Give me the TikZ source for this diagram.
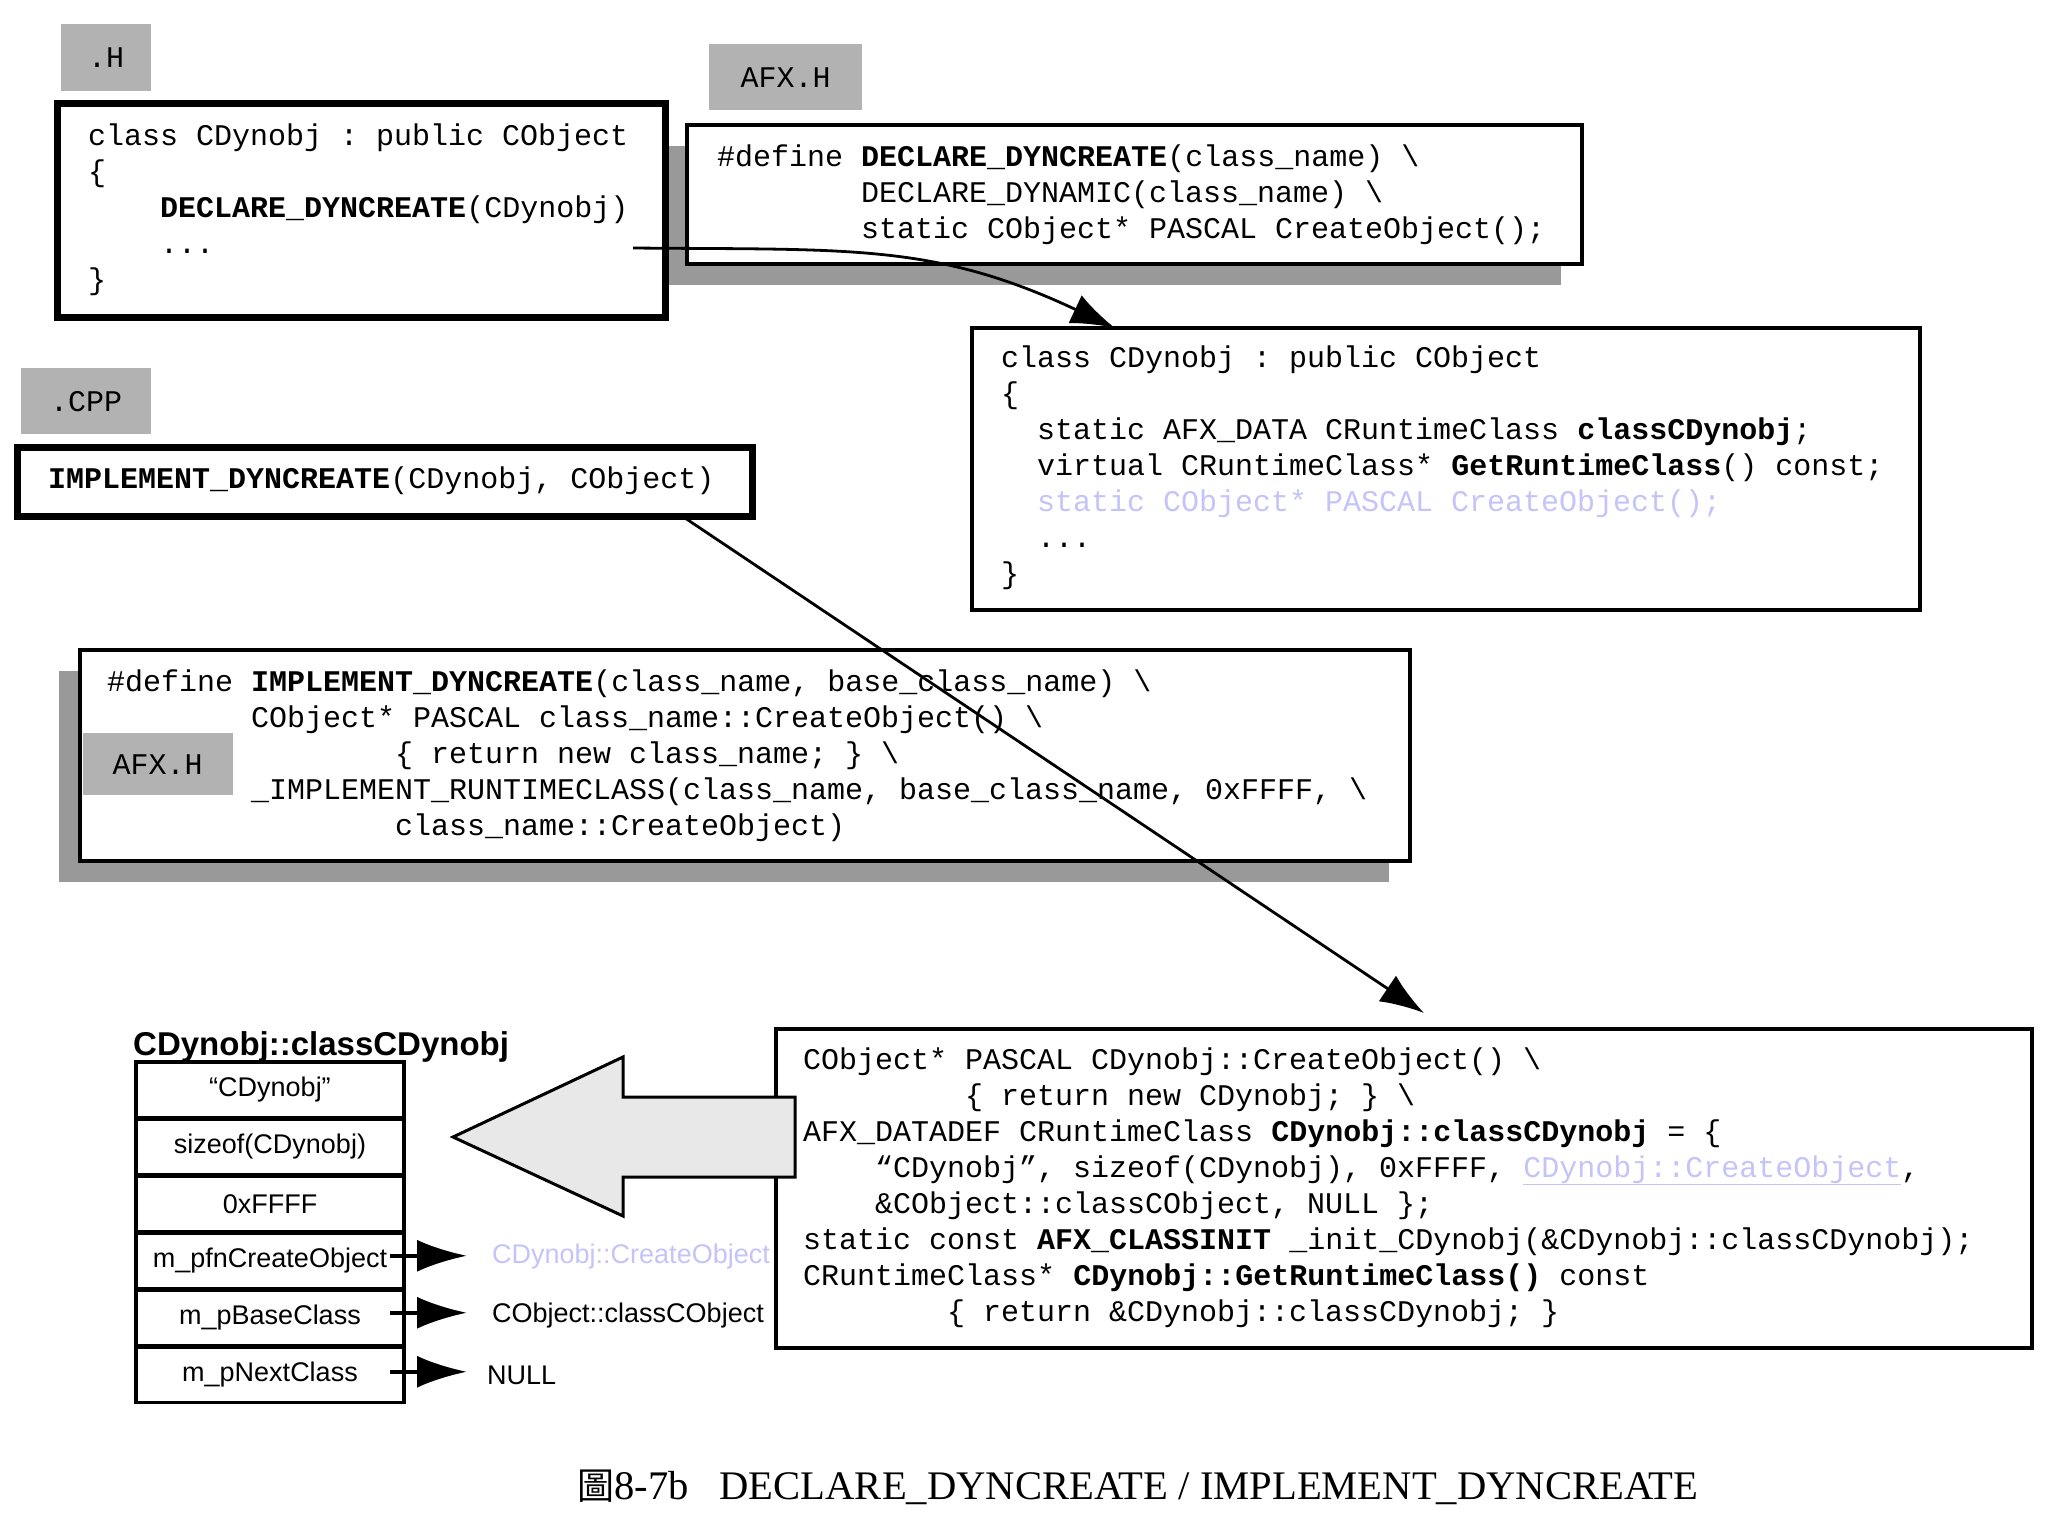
\documentclass[tikz,border=0pt]{standalone}
\usepackage{fontspec}
\setmainfont{Liberation Serif}
\setsansfont{Liberation Sans}
\setmonofont{Liberation Mono}
\newfontfamily\cjkfont{Noto Sans CJK TC}
\usetikzlibrary{arrows.meta,positioning,shadows}

\definecolor{etiq}{gray}{0.70}
\definecolor{ombre}{gray}{0.60}
\definecolor{fleche}{gray}{0.91}
\definecolor{pale}{RGB}{196,196,250}

\newlength{\chw}\setlength{\chw}{18pt}
\newcommand{\cind}[1]{\hspace*{#1\chw}}
\newcommand{\codefont}{\ttfamily\fontsize{30}{36}\selectfont\frenchspacing}
\newcommand{\slotfont}{\sffamily\fontsize{27}{30}\selectfont}

\begin{document}
\begin{tikzpicture}[x=1pt, y=-1pt,
    codebox/.style={draw, line width=4.3pt, fill=white, inner sep=0pt, outer sep=0pt, anchor=north west},
    heavybox/.style={codebox, line width=7pt},
    shadowed/.style={drop shadow={shadow xshift=-21pt, shadow yshift=-21pt, fill=ombre, opacity=1}},
    tag/.style={fill=etiq, inner sep=0pt, font=\codefont, anchor=north west},
    code/.style={inner sep=0pt, align=left, anchor=base west, font=\codefont},
    slot/.style={draw, line width=3.5pt, minimum width=268pt, minimum height=55.5pt, inner sep=0pt, outer sep=0pt, font=\slotfont},
    field/.style={inner sep=0pt, anchor=base west, font=\slotfont},
    link/.style={-{Latex[length=44pt, width=31pt]}, line width=2.8pt},
    ptr/.style={-{Latex[length=50pt, width=32pt]}, line width=4pt}]

    % Cadre de la page
    \fill[white] (0,0) rectangle (2048,1524);
    \useasboundingbox (0,0) rectangle (2048,1524);

    % Etiquettes des fichiers
    \node[tag, minimum width=90pt, minimum height=67pt] (labH) at (61,24) {.H};
    \node[tag, minimum width=153pt, minimum height=66pt] (labAfxDecl) at (709,44) {AFX.H};
    \node[tag, minimum width=130pt, minimum height=66pt] (labCpp) at (21,368) {.CPP};

    % Macro DECLARE_DYNCREATE (AFX.H) -- base = derniere ligne
    \node[codebox, shadowed, minimum width=895pt, minimum height=139pt] (boxDecl) at (687,125) {};
    \node[code] (txtDecl) at (717,238) {\#define \textbf{DECLARE\_DYNCREATE}(class\_name) \textbackslash\\
        \cind{8}DECLARE\_DYNAMIC(class\_name) \textbackslash\\
        \cind{8}static CObject* PASCAL CreateObject();};

    % Classe dans le .H
    \node[heavybox, minimum width=608pt, minimum height=214pt] (boxH) at (57,103) {};
    \node[code] (txtH) at (88,289) {class CDynobj : public CObject\\
        \{\\
        \cind{4}\textbf{DECLARE\_DYNCREATE}(CDynobj)\\
        \cind{4}...\\
        \}};

    % Classe apres expansion
    \node[codebox, minimum width=948pt, minimum height=282pt] (boxClass) at (972,328) {};
    \node[code] (txtClass) at (1001,583) {class CDynobj : public CObject\\
        \{\\
        \cind{2}static AFX\_DATA CRuntimeClass \textbf{classCDynobj};\\
        \cind{2}virtual CRuntimeClass* \textbf{GetRuntimeClass}() const;\\
        \cind{2}\textcolor{pale}{static CObject* PASCAL CreateObject();}\\
        \cind{2}...\\
        \}};

    % Appel dans le .CPP
    \node[heavybox, minimum width=735pt, minimum height=69pt] (boxImpl) at (17,447) {};
    \node[code] (txtImpl) at (48,488) {\textbf{IMPLEMENT\_DYNCREATE}(CDynobj, CObject)};

    % Macro IMPLEMENT_DYNCREATE (AFX.H)
    \node[codebox, shadowed, minimum width=1330pt, minimum height=211pt] (boxMacro) at (80,650) {};
    \node[code] (txtMacro) at (107,835) {\#define \textbf{IMPLEMENT\_DYNCREATE}(class\_name, base\_class\_name) \textbackslash\\
        \cind{8}CObject* PASCAL class\_name::CreateObject() \textbackslash\\
        \cind{16}\{ return new class\_name; \} \textbackslash\\
        \cind{8}\_IMPLEMENT\_RUNTIMECLASS(class\_name, base\_class\_name, 0xFFFF, \textbackslash\\
        \cind{16}class\_name::CreateObject)};
    \node[tag, minimum width=150pt, minimum height=62pt] (labAfxImpl) at (82.5,733) {AFX.H};

    % Code apres expansion
    \node[codebox, minimum width=1256pt, minimum height=319pt] (boxCreate) at (776,1029) {};
    \node[code] (txtCreate) at (803,1321) {CObject* PASCAL CDynobj::CreateObject() \textbackslash\\
        \cind{9}\{ return new CDynobj; \} \textbackslash\\
        AFX\_DATADEF CRuntimeClass \textbf{CDynobj::classCDynobj} = \{\\
        \cind{4}“CDynobj”, sizeof(CDynobj), 0xFFFF, \textcolor{pale}{\underline{CDynobj::CreateObject}},\\
        \cind{4}\&CObject::classCObject, NULL \};\\
        static const \textbf{AFX\_CLASSINIT} \_init\_CDynobj(\&CDynobj::classCDynobj);\\
        CRuntimeClass* \textbf{CDynobj::GetRuntimeClass()} const\\
        \cind{8}\{ return \&CDynobj::classCDynobj; \}};

    % Grosse fleche creuse
    \draw[line width=3pt, fill=fleche, line join=miter] (453,1137) -- (623,1057) -- (623,1097) -- (795,1097)
        -- (795,1177) -- (623,1177) -- (623,1216) -- cycle;

    % Structure CRuntimeClass
    \node[anchor=base west, inner sep=0pt, font=\sffamily\bfseries\fontsize{33}{36}\selectfont] (titleRtc) at (133,1055) {CDynobj::classCDynobj};
    \node[slot, anchor=north west] (rowName) at (136,1062) {“CDynobj”};
    \node[slot, below=1.5pt of rowName] (rowSize) {sizeof(CDynobj)};
    \node[slot, below=1.5pt of rowSize] (rowSchema) {0xFFFF};
    \node[slot, below=1.5pt of rowSchema] (rowCreate) {m\_pfnCreateObject};
    \node[slot, below=1.5pt of rowCreate] (rowBase) {m\_pBaseClass};
    \node[slot, below=1.5pt of rowBase] (rowNext) {m\_pNextClass};

    % Valeurs pointees
    \node[field] (valCreate) at (492,1263) {\textcolor{pale}{CDynobj::CreateObject}};
    \node[field] (valBase) at (492,1322) {CObject::classCObject};
    \node[field] (valNull) at (487,1384) {NULL};
    \draw[ptr, shorten >=25pt] ([xshift=-14pt, yshift=5pt]rowCreate.east) -- ([yshift=5pt]rowCreate.east -| valCreate.west);
    \draw[ptr, shorten >=25pt] ([xshift=-14pt, yshift=5pt]rowBase.east) -- ([yshift=5pt]rowBase.east -| valBase.west);
    \draw[ptr, shorten >=20pt] ([xshift=-14pt, yshift=3pt]rowNext.east) -- ([yshift=3pt]rowNext.east -| valNull.west);

    % Fleches d'expansion
    \coordinate (dclFrom) at (633,248);
    \draw[link] (dclFrom) .. controls +(217,2) and +(-181,-85) .. ([xshift=143pt]boxClass.north west);
    \draw[link] ([xshift=-70pt]boxImpl.south east) -- ([xshift=648pt, yshift=16pt]boxCreate.north west);

    % Legende
    \node[anchor=base west, inner sep=0pt, font=\rmfamily\fontsize{40.6}{44}\selectfont] (caption) at (577,1499)
        {{\cjkfont\fontsize{37}{40}\selectfont 圖}8-7b\hspace{31pt}DECLARE\_DYNCREATE / IMPLEMENT\_DYNCREATE};
\end{tikzpicture}
\end{document}
